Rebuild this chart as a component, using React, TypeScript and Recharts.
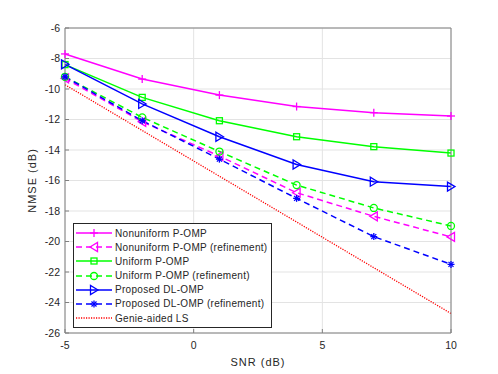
import { CartesianGrid, Legend, Line, LineChart, XAxis, YAxis } from "recharts"

const snr = [-5, -2, 1, 4, 7, 10]
const nonuniform = [-7.7, -9.35, -10.4, -11.15, -11.55, -11.77]
const nonuniformRef = [-9.3, -12.15, -14.4, -16.8, -18.35, -19.7]
const uniform = [-8.4, -10.55, -12.08, -13.13, -13.78, -14.2]
const uniformRef = [-9.2, -11.86, -14.1, -16.3, -17.8, -18.98]
const dlomp = [-8.38, -10.98, -13.13, -14.95, -16.08, -16.4]
const dlompRef = [-9.2, -12.08, -14.6, -17.17, -19.68, -21.5]
const genie = [-9.72, -12.72, -15.72, -18.72, -21.72, -24.72]

const xTicks = [-5, 0, 5, 10]
const yTicks = [-26, -24, -22, -20, -18, -16, -14, -12, -10, -8, -6]

type Shape = "plus" | "triLeft" | "square" | "circle" | "triRight" | "star" | "none"

const series: { key: string; name: string; color: string; dash?: string; shape: Shape; values: number[] }[] = [
  { key: "nu", name: "Nonuniform P-OMP", color: "#ff00ff", shape: "plus", values: nonuniform },
  { key: "nur", name: "Nonuniform P-OMP (refinement)", color: "#ff00ff", dash: "6 4", shape: "triLeft", values: nonuniformRef },
  { key: "u", name: "Uniform P-OMP", color: "#00ff00", shape: "square", values: uniform },
  { key: "ur", name: "Uniform P-OMP (refinement)", color: "#00ff00", dash: "6 4", shape: "circle", values: uniformRef },
  { key: "dl", name: "Proposed DL-OMP", color: "#0000ff", shape: "triRight", values: dlomp },
  { key: "dlr", name: "Proposed DL-OMP (refinement)", color: "#0000ff", dash: "6 4", shape: "star", values: dlompRef },
  { key: "ls", name: "Genie-aided LS", color: "#ff0000", dash: "1.2 1.3", shape: "none", values: genie },
]

const data = snr.map((x, i) => {
  const row: Record<string, number> = { snr: x }
  series.forEach((s) => (row[s.key] = s.values[i]))
  return row
})

function Marker({ shape, cx, cy, color }: { shape: Shape; cx: number; cy: number; color: string }) {
  const p = { stroke: color, strokeWidth: 1.3, fill: "none" }
  switch (shape) {
    case "plus":
      return (
        <g {...p}>
          <line x1={cx - 4} y1={cy} x2={cx + 4} y2={cy} />
          <line x1={cx} y1={cy - 4} x2={cx} y2={cy + 4} />
        </g>
      )
    case "triLeft":
      return <polygon {...p} points={`${cx - 4},${cy} ${cx + 3.5},${cy - 4.5} ${cx + 3.5},${cy + 4.5}`} />
    case "triRight":
      return <polygon {...p} points={`${cx + 4},${cy} ${cx - 3.5},${cy - 4.5} ${cx - 3.5},${cy + 4.5}`} />
    case "square":
      return <rect {...p} x={cx - 3} y={cy - 3} width={6} height={6} />
    case "circle":
      return <circle {...p} cx={cx} cy={cy} r={3.5} />
    case "star":
      return (
        <g {...p}>
          <line x1={cx - 3.5} y1={cy} x2={cx + 3.5} y2={cy} />
          <line x1={cx} y1={cy - 3.5} x2={cx} y2={cy + 3.5} />
          <line x1={cx - 2.5} y1={cy - 2.5} x2={cx + 2.5} y2={cy + 2.5} />
          <line x1={cx - 2.5} y1={cy + 2.5} x2={cx + 2.5} y2={cy - 2.5} />
        </g>
      )
    default:
      return <g />
  }
}

const font = "'Liberation Sans', Arial, sans-serif"
const axisColor = "#808080"
const textColor = "#262626"

function LegendBox() {
  return (
    <div
      style={{
        border: "1px solid #262626",
        background: "#fff",
        width: 197,
        padding: "2px 0",
        fontFamily: font,
        fontSize: 10,
        letterSpacing: 0.3,
        color: textColor,
      }}
    >
      {series.map((s) => (
        <div key={s.key} style={{ display: "flex", alignItems: "center", height: 14.17 }}>
          <svg width={40} height={12} style={{ flex: "none" }}>
            <line x1={2} y1={6} x2={38} y2={6} stroke={s.color} strokeWidth={s.shape === "none" ? 1.3 : 1.5} strokeDasharray={s.dash} />
            <Marker shape={s.shape} cx={20} cy={6} color={s.color} />
          </svg>
          <span style={{ whiteSpace: "nowrap", marginLeft: 1 }}>{s.name}</span>
        </div>
      ))}
    </div>
  )
}

export default function App() {
  return (
    <div style={{ position: "absolute", left: 0, top: 0, width: 498, height: 374, background: "#fff" }}>
      <LineChart width={498} height={374} data={data} margin={{ top: 27, right: 46, left: 0, bottom: 0 }}>
        <CartesianGrid stroke="#e3e3e3" strokeWidth={1} xAxisId="b" yAxisId="l" />
        <XAxis
          xAxisId="b"
          dataKey="snr"
          type="number"
          domain={[-5, 10]}
          ticks={xTicks}
          height={41}
          tickSize={-4}
          tickMargin={13}
          stroke={axisColor}
          tick={{ fill: textColor, fontSize: 10.5, fontFamily: font }}
          label={{
            value: "SNR (dB)",
            position: "insideBottom",
            offset: 8,
            fill: textColor,
            fontSize: 11,
            fontFamily: font,
            style: { letterSpacing: 1 },
          }}
        />
        <XAxis
          xAxisId="t"
          dataKey="snr"
          type="number"
          orientation="top"
          domain={[-5, 10]}
          ticks={xTicks}
          height={1}
          tickSize={-4}
          stroke={axisColor}
          tick={false}
        />
        <YAxis
          yAxisId="l"
          type="number"
          domain={[-26, -6]}
          ticks={yTicks}
          width={65}
          tickSize={-4}
          tickMargin={9}
          stroke={axisColor}
          tick={{ fill: textColor, fontSize: 10.5, fontFamily: font }}
          label={{
            content: (props: any) => {
              const vb = props.viewBox
              const x = 36
              const y = vb.y + vb.height / 2
              return (
                <text
                  x={x}
                  y={y}
                  transform={`rotate(-90 ${x} ${y})`}
                  textAnchor="middle"
                  fill={textColor}
                  fontSize={11}
                  fontFamily={font}
                  style={{ letterSpacing: 1 }}
                >
                  NMSE (dB)
                </text>
              )
            },
          }}
        />
        <YAxis
          yAxisId="r"
          orientation="right"
          type="number"
          domain={[-26, -6]}
          ticks={yTicks}
          width={1}
          tickSize={-4}
          stroke={axisColor}
          tick={false}
        />
        <Legend
          layout="vertical"
          align="center"
          verticalAlign="middle"
          wrapperStyle={{ left: 73, top: 223, width: 199 }}
          content={() => <LegendBox />}
        />
        {series.map((s) => (
          <Line
            key={s.key}
            xAxisId="b"
            yAxisId="l"
            dataKey={s.key}
            name={s.name}
            type="linear"
            stroke={s.color}
            strokeWidth={s.shape === "none" ? 1.3 : 1.5}
            strokeDasharray={s.dash}
            isAnimationActive={false}
            dot={(p: any) => <Marker key={p.index} shape={s.shape} cx={p.cx} cy={p.cy} color={s.color} />}
            activeDot={false}
          />
        ))}
      </LineChart>
    </div>
  )
}
